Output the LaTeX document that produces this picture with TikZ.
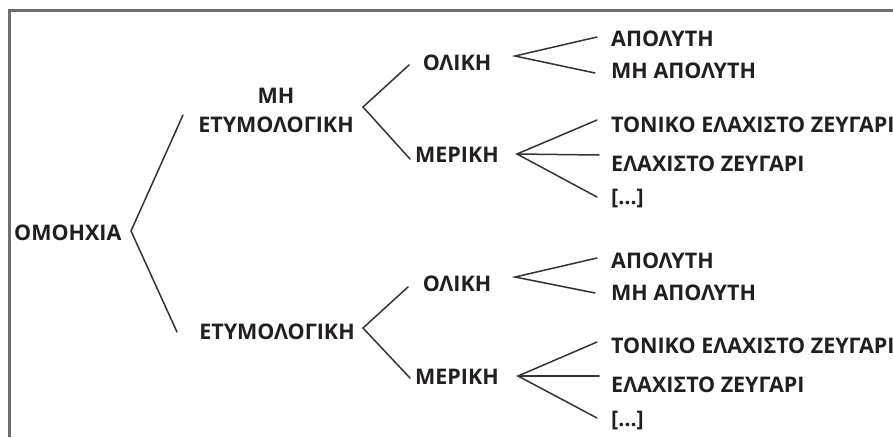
\documentclass[tikz,border=0pt]{standalone}
\usepackage{fontspec}
\setmainfont{Open Sans}
\definecolor{txt}{HTML}{231F20}
\definecolor{ln}{HTML}{333333}
\definecolor{frame}{HTML}{6E6E6E}
\tikzset{
  lbl/.style={inner sep=0pt, text=txt, font=\fontsize{21.5}{29}\selectfont\bfseries},
  lleft/.style={lbl, anchor=base west},
  lmid/.style={lbl, anchor=base},
  branch/.style={draw=ln, line width=1.5pt, line cap=round, line join=miter},
  framel/.style={draw=frame, line width=2.5pt}
}
\begin{document}
\begin{tikzpicture}[x=1pt,y=-1pt]
\useasboundingbox (0,0) rectangle (893,437);
% frame (open at right and bottom)
\coordinate (fbl) at (9.5,437);
\coordinate (ftl) at (9.5,10.5);
\coordinate (ftr) at (893,10.5);
\draw[framel] (fbl) -- (ftl) -- (ftr);

% texts
\node[lleft] (omo) at (14,240) {ΟΜΟΗΧΙΑ};
\node[lbl, align=center, anchor=base] (met) at (276,132) {ΜΗ\\ΕΤΥΜΟΛΟΓΙΚΗ};
\node[lmid] (ety) at (277,339) {ΕΤΥΜΟΛΟΓΙΚΗ};

\node[lmid] (ol1) at (457,70) {ΟΛΙΚΗ};
\node[lmid] (me1) at (457,162) {ΜΕΡΙΚΗ};
\node[lmid] (ol2) at (457,291) {ΟΛΙΚΗ};
\node[lmid] (me2) at (457,384) {ΜΕΡΙΚΗ};

\node[lleft] (ap1) at (611,46) {ΑΠΟΛΥΤΗ};
\node[lleft] (map1) at (611,78) {ΜΗ ΑΠΟΛΥΤΗ};
\node[lleft] (ton1) at (611,132) {ΤΟΝΙΚΟ ΕΛΑΧΙΣΤΟ ΖΕΥΓΑΡΙ};
\node[lleft] (el1) at (611,171) {ΕΛΑΧΙΣΤΟ ΖΕΥΓΑΡΙ};
\node[lleft] (etc1) at (611,204) {[…]};

\node[lleft] (ap2) at (611,268) {ΑΠΟΛΥΤΗ};
\node[lleft] (map2) at (611,300) {ΜΗ ΑΠΟΛΥΤΗ};
\node[lleft] (ton2) at (611,353) {ΤΟΝΙΚΟ ΕΛΑΧΙΣΤΟ ΖΕΥΓΑΡΙ};
\node[lleft] (el2) at (611,392) {ΕΛΑΧΙΣΤΟ ΖΕΥΓΑΡΙ};
\node[lleft] (etc2) at (611,426) {[…]};

% bracket apexes and free ends
\coordinate (a0) at (131,231);
\coordinate (a0u) at (183,115);
\coordinate (a0d) at (177,332);

\coordinate (a1) at (363,107);
\coordinate (a1u) at (409,65);
\coordinate (a1d) at (410,159);

\coordinate (a2) at (363,328);
\coordinate (a2u) at (408,287);
\coordinate (a2d) at (410,378);

\coordinate (b1) at (515,56);
\coordinate (b1u) at (597,37);
\coordinate (b1d) at (595,73);

\coordinate (c1) at (517,154);
\coordinate (c1u) at (597,120);
\coordinate (c1m) at (599,155);
\coordinate (c1d) at (597,197);

\coordinate (b2) at (515,277);
\coordinate (b2u) at (597,258);
\coordinate (b2d) at (595,293);

\coordinate (c2) at (518,376);
\coordinate (c2u) at (597,342);
\coordinate (c2m) at (599,376);
\coordinate (c2d) at (597,418);

\draw[branch] (a0u) -- (a0) -- (a0d);
\draw[branch] (a1u) -- (a1) -- (a1d);
\draw[branch] (a2u) -- (a2) -- (a2d);
\draw[branch] (b1u) -- (b1) -- (b1d);
\draw[branch] (c1u) -- (c1) -- (c1d);
\draw[branch] (c1) -- (c1m);
\draw[branch] (b2u) -- (b2) -- (b2d);
\draw[branch] (c2u) -- (c2) -- (c2d);
\draw[branch] (c2) -- (c2m);
\end{tikzpicture}
\end{document}
